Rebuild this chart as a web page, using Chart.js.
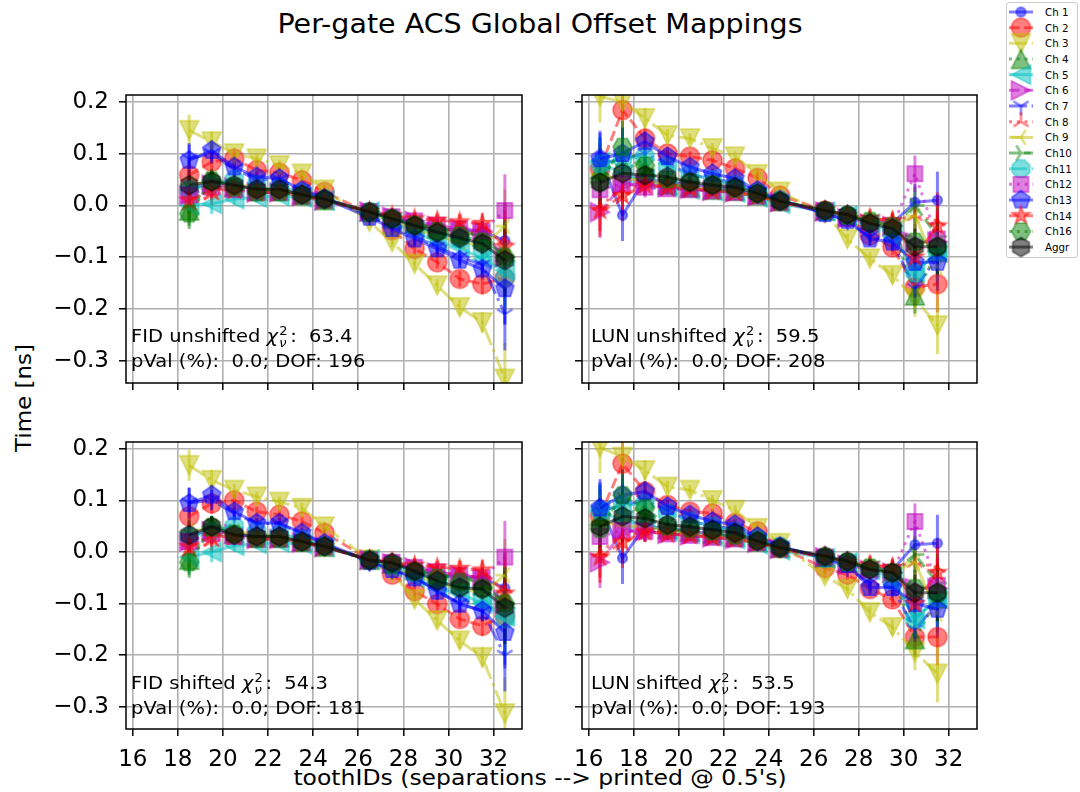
<!DOCTYPE html>
<html>
<head>
<meta charset="utf-8">
<script src="https://cdn.jsdelivr.net/npm/chart.js@4"></script>
<style>
  body { margin: 0; width: 1080px; height: 792px; position: relative; background: #fff; overflow: hidden;
         font-family: "DejaVu Sans", sans-serif; color: #000; }
  .abs { position: absolute; }
  .txt { position: absolute; font-size: 19.5px; line-height: 27px; white-space: pre;
         transform: scaleY(0.93); transform-origin: 0 33.75px; }
  .chi { font-style: italic; }
  .ss { position: relative; display: inline-block; width: 12px; height: 1px; }
  .ss .sup { position: absolute; left: 1px; top: -18px; font-size: 13px; line-height: 1; }
  .ss .sub { position: absolute; left: 1px; top: -5px; font-size: 13px; line-height: 1; font-style: italic; }
  #legend { position: absolute; left: 1006px; top: 2px; width: 72px; height: 256px; border: 1px solid #cccccc; border-radius: 3px; box-sizing: border-box; }
  .lgtxt { position: absolute; left: 1045px; font-size: 10.3px; line-height: 12px; white-space: pre; }
</style>
</head>
<body>

<div class="abs" style="left:0;width:1080px;top:10px;text-align:center;font-size:28.5px;line-height:1;transform:scaleY(0.93);transform-origin:50% 24.1px;">Per-gate ACS Global Offset Mappings</div>
<div class="abs" style="left:24px;top:398px;font-size:23px;line-height:1;white-space:nowrap;transform:translate(-50%,-50%) rotate(-90deg) scaleY(0.92);">Time [ns]</div>
<div class="abs" style="left:0;width:1080px;top:766px;text-align:center;font-size:23.5px;line-height:1;white-space:pre;transform:scaleY(0.91);transform-origin:50% 19.9px;">toothIDs (separations --&gt; printed @ 0.5's)</div>

<canvas id="tl" class="abs"></canvas>
<canvas id="tr" class="abs"></canvas>
<canvas id="bl" class="abs"></canvas>
<canvas id="br" class="abs"></canvas>

<div class="txt" style="left:131px;top:321px;">FID unshifted <span class="chi">χ</span><span class="ss"><span class="sup">2</span><span class="sub">ν</span></span>:  63.4
pVal (%):  0.0; DOF: 196</div>
<div class="txt" style="left:591px;top:321px;">LUN unshifted <span class="chi">χ</span><span class="ss"><span class="sup">2</span><span class="sub">ν</span></span>:  59.5
pVal (%):  0.0; DOF: 208</div>
<div class="txt" style="left:131px;top:668px;">FID shifted <span class="chi">χ</span><span class="ss"><span class="sup">2</span><span class="sub">ν</span></span>:  54.3
pVal (%):  0.0; DOF: 181</div>
<div class="txt" style="left:591px;top:668px;">LUN shifted <span class="chi">χ</span><span class="ss"><span class="sup">2</span><span class="sub">ν</span></span>:  53.5
pVal (%):  0.0; DOF: 193</div>

<div id="legend"></div>
<canvas id="legendMarks" class="abs" style="left:1000px;top:0;"></canvas>

<script>
// tooth positions
const fidX = [18.5, 19.5, 20.5, 21.5, 22.5, 23.5, 24.5, 26.5, 27.5, 28.5, 29.5, 30.5, 31.5, 32.5];
const lunX = [16.5, 17.5, 18.5, 19.5, 20.5, 21.5, 22.5, 23.5, 24.5, 26.5, 27.5, 28.5, 29.5, 30.5, 31.5];

const xTicks = [16, 18, 20, 22, 24, 26, 28, 30, 32];
const yTicks = [0.2, 0.1, 0.0, -0.1, -0.2, -0.3];
const yTickLabels = ["0.2", "0.1", "0.0", "\u22120.1", "\u22120.2", "\u22120.3"];

const seriesNames = ["Ch 1", "Ch 2", "Ch 3", "Ch 4", "Ch 5", "Ch 6", "Ch 7", "Ch 8",
                     "Ch 9", "Ch10", "Ch11", "Ch12", "Ch13", "Ch14", "Ch16", "Aggr"];

// one row per series, in seriesNames order
const fidUnshifted = [
  [0.030, 0.045, 0.040, 0.030, 0.030, 0.020, 0.012, -0.012, -0.022, -0.035, -0.045, -0.048, -0.050, -0.068],
  [0.058, 0.084, 0.090, 0.068, 0.063, 0.048, 0.026, -0.016, -0.048, -0.084, -0.110, -0.142, -0.152, -0.140],
  [0.145, 0.123, 0.100, 0.090, 0.077, 0.061, 0.030, -0.032, -0.071, -0.113, -0.155, -0.197, -0.226, -0.335],
  [-0.010, 0.050, 0.035, 0.028, 0.028, 0.020, 0.010, -0.012, -0.025, -0.035, -0.045, -0.050, -0.060, -0.090],
  [0.000, 0.003, 0.012, 0.015, 0.018, 0.015, 0.010, -0.012, -0.032, -0.050, -0.071, -0.081, -0.104, -0.125],
  [0.020, 0.040, 0.035, 0.025, 0.025, 0.018, 0.010, -0.012, -0.022, -0.030, -0.040, -0.045, -0.050, -0.100],
  [0.090, 0.100, 0.070, 0.050, 0.050, 0.030, 0.015, -0.020, -0.040, -0.060, -0.080, -0.100, -0.115, -0.210],
  [0.000, 0.020, 0.030, 0.025, 0.025, 0.020, 0.010, -0.012, -0.025, -0.035, -0.045, -0.050, -0.055, -0.065],
  [0.040, 0.045, 0.040, 0.035, 0.030, 0.020, 0.010, -0.015, -0.030, -0.045, -0.060, -0.070, -0.080, -0.040],
  [0.030, 0.050, 0.040, 0.032, 0.030, 0.020, 0.012, -0.012, -0.025, -0.035, -0.045, -0.050, -0.060, -0.100],
  [0.030, 0.040, 0.050, 0.040, 0.035, 0.025, 0.012, -0.012, -0.025, -0.040, -0.055, -0.065, -0.085, -0.140],
  [0.020, 0.035, 0.030, 0.025, 0.025, 0.018, 0.010, -0.012, -0.022, -0.030, -0.038, -0.045, -0.050, -0.010],
  [0.087, 0.106, 0.074, 0.055, 0.052, 0.029, 0.013, -0.023, -0.045, -0.065, -0.084, -0.106, -0.123, -0.161],
  [0.010, 0.030, 0.030, 0.025, 0.025, 0.018, 0.010, -0.012, -0.020, -0.026, -0.029, -0.032, -0.035, -0.080],
  [-0.016, 0.048, 0.035, 0.025, 0.025, 0.018, 0.010, -0.013, -0.025, -0.038, -0.050, -0.058, -0.070, -0.100],
  [0.039, 0.046, 0.039, 0.031, 0.031, 0.021, 0.012, -0.013, -0.026, -0.039, -0.052, -0.063, -0.074, -0.106]
];
const fidUnshiftedErr = [0.030, 0.020, 0.012, 0.010, 0.010, 0.010, 0.010, 0.010, 0.010, 0.012, 0.012, 0.015, 0.020, 0.070];

const lunUnshifted = [
  [0.094, -0.019, 0.050, 0.045, 0.040, 0.035, 0.030, 0.020, 0.008, -0.012, -0.020, -0.030, -0.035, 0.006, 0.010],
  [0.070, 0.184, 0.129, 0.100, 0.094, 0.087, 0.071, 0.053, 0.019, -0.010, -0.023, -0.058, -0.081, -0.158, -0.152],
  [0.210, 0.200, 0.168, 0.135, 0.129, 0.110, 0.094, 0.060, 0.026, -0.016, -0.065, -0.103, -0.135, -0.180, -0.232],
  [0.070, 0.080, 0.070, 0.040, 0.035, 0.030, 0.028, 0.020, 0.008, -0.010, -0.020, -0.030, -0.040, -0.174, -0.090],
  [0.084, 0.060, 0.050, 0.035, 0.030, 0.028, 0.025, 0.015, 0.003, -0.012, -0.020, -0.035, -0.050, -0.130, -0.090],
  [-0.013, 0.040, 0.040, 0.035, 0.032, 0.028, 0.025, 0.018, 0.006, -0.012, -0.025, -0.035, -0.040, -0.071, -0.070],
  [0.080, 0.090, 0.100, 0.080, 0.060, 0.050, 0.045, 0.025, 0.010, -0.015, -0.030, -0.060, -0.070, -0.160, -0.100],
  [0.000, 0.030, 0.040, 0.035, 0.030, 0.028, 0.025, 0.018, 0.006, -0.010, -0.020, -0.025, -0.030, -0.020, -0.030],
  [0.060, 0.050, 0.050, 0.040, 0.035, 0.030, 0.025, 0.018, 0.006, -0.010, -0.020, -0.030, -0.040, -0.020, -0.120],
  [0.060, 0.100, 0.070, 0.040, 0.035, 0.030, 0.028, 0.020, 0.008, -0.010, -0.020, -0.030, -0.040, 0.000, -0.060],
  [0.080, 0.090, 0.094, 0.075, 0.060, 0.050, 0.040, 0.025, 0.010, -0.012, -0.020, -0.035, -0.055, -0.130, -0.090],
  [0.030, 0.042, 0.035, 0.032, 0.030, 0.028, 0.025, 0.018, 0.006, -0.010, -0.025, -0.035, -0.040, 0.061, -0.065],
  [0.090, 0.100, 0.123, 0.094, 0.074, 0.061, 0.052, 0.029, 0.010, -0.016, -0.029, -0.065, -0.071, -0.110, -0.110],
  [-0.010, 0.019, 0.039, 0.035, 0.032, 0.028, 0.025, 0.018, 0.006, -0.010, -0.020, -0.025, -0.030, -0.100, -0.040],
  [0.045, 0.113, 0.077, 0.050, 0.045, 0.040, 0.032, 0.022, 0.008, -0.010, -0.020, -0.030, -0.040, -0.070, -0.080],
  [0.044, 0.062, 0.058, 0.055, 0.045, 0.039, 0.035, 0.023, 0.008, -0.010, -0.018, -0.035, -0.045, -0.080, -0.080]
];
const lunUnshiftedErr = [0.050, 0.050, 0.020, 0.012, 0.010, 0.010, 0.010, 0.010, 0.010, 0.010, 0.010, 0.012, 0.015, 0.035, 0.055];

const fidShifted = [
  [0.030, 0.045, 0.035, 0.030, 0.030, 0.020, 0.010, -0.015, -0.022, -0.035, -0.045, -0.048, -0.050, -0.070],
  [0.069, 0.094, 0.100, 0.078, 0.072, 0.059, 0.037, -0.015, -0.044, -0.076, -0.101, -0.130, -0.143, -0.124],
  [0.168, 0.139, 0.120, 0.107, 0.097, 0.085, 0.049, -0.015, -0.040, -0.092, -0.133, -0.172, -0.204, -0.313],
  [-0.015, 0.050, 0.035, 0.028, 0.028, 0.020, 0.010, -0.015, -0.022, -0.035, -0.045, -0.050, -0.055, -0.090],
  [-0.010, 0.000, 0.012, 0.016, 0.018, 0.015, 0.010, -0.015, -0.030, -0.050, -0.070, -0.080, -0.100, -0.125],
  [0.020, 0.040, 0.035, 0.025, 0.025, 0.018, 0.010, -0.015, -0.022, -0.030, -0.040, -0.045, -0.050, -0.100],
  [0.095, 0.100, 0.075, 0.055, 0.055, 0.035, 0.015, -0.020, -0.035, -0.050, -0.075, -0.100, -0.115, -0.200],
  [0.000, 0.020, 0.030, 0.025, 0.025, 0.020, 0.010, -0.015, -0.022, -0.030, -0.040, -0.045, -0.050, -0.070],
  [0.040, 0.045, 0.040, 0.035, 0.030, 0.020, 0.010, -0.015, -0.030, -0.045, -0.060, -0.070, -0.080, -0.045],
  [0.030, 0.050, 0.040, 0.032, 0.030, 0.020, 0.012, -0.015, -0.022, -0.035, -0.045, -0.050, -0.060, -0.100],
  [0.030, 0.040, 0.050, 0.040, 0.035, 0.025, 0.012, -0.015, -0.025, -0.040, -0.055, -0.070, -0.090, -0.130],
  [0.020, 0.035, 0.030, 0.025, 0.025, 0.018, 0.010, -0.015, -0.020, -0.030, -0.038, -0.045, -0.050, -0.010],
  [0.094, 0.110, 0.078, 0.056, 0.056, 0.037, 0.017, -0.018, -0.034, -0.050, -0.076, -0.101, -0.114, -0.156],
  [0.010, 0.030, 0.030, 0.025, 0.025, 0.018, 0.010, -0.015, -0.020, -0.026, -0.030, -0.032, -0.035, -0.080],
  [-0.020, 0.048, 0.035, 0.025, 0.025, 0.018, 0.010, -0.015, -0.025, -0.038, -0.050, -0.058, -0.070, -0.100],
  [0.033, 0.049, 0.033, 0.030, 0.030, 0.020, 0.011, -0.016, -0.021, -0.037, -0.056, -0.069, -0.072, -0.108]
];
const fidShiftedErr = [0.030, 0.020, 0.012, 0.010, 0.010, 0.010, 0.010, 0.008, 0.010, 0.012, 0.012, 0.015, 0.020, 0.070];

const lunShifted = [
  [0.091, -0.012, 0.050, 0.045, 0.040, 0.035, 0.030, 0.020, 0.008, -0.010, -0.020, -0.030, -0.035, 0.014, 0.017],
  [0.070, 0.171, 0.117, 0.091, 0.078, 0.075, 0.056, 0.040, 0.008, -0.031, -0.044, -0.072, -0.092, -0.165, -0.165],
  [0.203, 0.184, 0.158, 0.126, 0.120, 0.100, 0.081, 0.046, 0.017, -0.047, -0.072, -0.117, -0.146, -0.194, -0.236],
  [0.070, 0.080, 0.075, 0.045, 0.040, 0.035, 0.030, 0.020, 0.008, -0.010, -0.020, -0.030, -0.040, -0.169, -0.090],
  [0.080, 0.060, 0.055, 0.040, 0.035, 0.030, 0.025, 0.015, 0.003, -0.012, -0.020, -0.035, -0.050, -0.130, -0.090],
  [-0.020, 0.040, 0.040, 0.035, 0.032, 0.028, 0.025, 0.018, 0.006, -0.010, -0.025, -0.035, -0.040, -0.070, -0.070],
  [0.080, 0.090, 0.100, 0.080, 0.060, 0.050, 0.045, 0.025, 0.010, -0.012, -0.030, -0.060, -0.070, -0.150, -0.100],
  [0.000, 0.030, 0.040, 0.035, 0.030, 0.028, 0.025, 0.018, 0.006, -0.010, -0.020, -0.025, -0.030, -0.020, -0.030],
  [0.060, 0.050, 0.050, 0.040, 0.035, 0.030, 0.025, 0.018, 0.006, -0.010, -0.020, -0.030, -0.040, -0.020, -0.120],
  [0.060, 0.100, 0.070, 0.045, 0.040, 0.035, 0.030, 0.020, 0.008, -0.010, -0.020, -0.030, -0.040, -0.005, -0.060],
  [0.080, 0.090, 0.094, 0.075, 0.060, 0.050, 0.040, 0.025, 0.010, -0.012, -0.020, -0.035, -0.055, -0.130, -0.090],
  [0.030, 0.042, 0.040, 0.035, 0.032, 0.028, 0.025, 0.018, 0.006, -0.010, -0.025, -0.035, -0.040, 0.059, -0.065],
  [0.085, 0.110, 0.117, 0.088, 0.072, 0.059, 0.053, 0.030, 0.011, -0.012, -0.024, -0.069, -0.069, -0.100, -0.111],
  [-0.010, 0.019, 0.039, 0.035, 0.032, 0.028, 0.025, 0.018, 0.006, -0.010, -0.020, -0.025, -0.030, -0.100, -0.040],
  [0.045, 0.110, 0.085, 0.050, 0.045, 0.040, 0.032, 0.022, 0.008, -0.010, -0.020, -0.030, -0.040, -0.070, -0.080],
  [0.049, 0.069, 0.065, 0.053, 0.049, 0.043, 0.037, 0.021, 0.008, -0.008, -0.018, -0.034, -0.040, -0.079, -0.079]
];
const lunShiftedErr = [0.050, 0.050, 0.020, 0.012, 0.010, 0.010, 0.010, 0.010, 0.010, 0.010, 0.010, 0.012, 0.015, 0.035, 0.055];

// styling
const seriesColors = ["0,0,255", "255,0,0", "191,191,0", "0,128,0", "0,191,191", "191,0,191",
                      "0,0,255", "255,0,0", "191,191,0", "0,128,0", "0,191,191", "191,0,191",
                      "0,0,255", "255,0,0", "0,128,0", "0,0,0"];
const seriesMarkers = ["point", "circle", "down", "up", "left", "right", "tri1", "tri2",
                       "tri3", "tri4", "oct", "square", "pent", "star", "hexFlat", "hexPointy"];
const seriesLines = ["-", "--", "-.", ":", "-", "--", "-.", ":", "-", "--", "-.", ":", "-", "--", ":", "-"];
const dashes = { "-": [], "--": [10.5, 4.6], "-.": [18, 4.6, 3, 4.6], ":": [3, 4.8] };

const FONT = '"DejaVu Sans", sans-serif';
const MS = 19;
const X_MIN = 15.7, X_MAX = 33.26;
const Y_MIN = -0.343, Y_MAX = 0.213;
const AX_W = 80, AX_H = 45, PAD_T = 20, PAD_R = 20;

function makeMarker(kind, rgb, s) {
  const c = document.createElement("canvas");
  const size = Math.ceil(s + 6);
  c.width = c.height = size;
  const g = c.getContext("2d");
  g.translate(size / 2, size / 2);
  const r = s / 2;
  g.fillStyle = `rgba(${rgb},0.5)`;
  g.strokeStyle = `rgba(${rgb},0.5)`;
  g.lineWidth = 1.6;
  const poly = pts => {
    g.beginPath();
    pts.forEach(([px, py], k) => k ? g.lineTo(px * r, py * r) : g.moveTo(px * r, py * r));
    g.closePath(); g.fill(); g.stroke();
  };
  const regular = (n, start) => {
    const p = [];
    for (let k = 0; k < n; k++) {
      const t = start + k * 2 * Math.PI / n;
      p.push([Math.cos(t), -Math.sin(t)]);
    }
    poly(p);
  };
  const arms = list => {
    g.lineWidth = 2.4;
    g.beginPath();
    list.forEach(([px, py]) => { g.moveTo(0, 0); g.lineTo(px * r, py * r); });
    g.stroke();
  };
  switch (kind) {
    case "point": g.beginPath(); g.arc(0, 0, r / 2, 0, 2 * Math.PI); g.fill(); g.stroke(); break;
    case "circle": g.beginPath(); g.arc(0, 0, r, 0, 2 * Math.PI); g.fill(); g.stroke(); break;
    case "down": poly([[0, 1], [1, -1], [-1, -1]]); break;
    case "up": poly([[0, -1], [1, 1], [-1, 1]]); break;
    case "left": poly([[-1, 0], [1, -1], [1, 1]]); break;
    case "right": poly([[1, 0], [-1, -1], [-1, 1]]); break;
    case "tri1": arms([[0, 1], [0.8, -0.5], [-0.8, -0.5]]); break;
    case "tri2": arms([[0, -1], [0.8, 0.5], [-0.8, 0.5]]); break;
    case "tri3": arms([[-1, 0], [0.5, 0.8], [0.5, -0.8]]); break;
    case "tri4": arms([[1, 0], [-0.5, 0.8], [-0.5, -0.8]]); break;
    case "oct": regular(8, Math.PI / 2 + Math.PI / 8); break;
    case "square": poly([[-0.8, -0.8], [0.8, -0.8], [0.8, 0.8], [-0.8, 0.8]]); break;
    case "pent": regular(5, Math.PI / 2); break;
    case "star": {
      const p = [];
      for (let k = 0; k < 10; k++) {
        const t = Math.PI / 2 + k * Math.PI / 5;
        const rr = k % 2 ? 0.381966 : 1;
        p.push([rr * Math.cos(t), -rr * Math.sin(t)]);
      }
      poly(p);
      break;
    }
    case "hexPointy": regular(6, Math.PI / 2); break;
    case "hexFlat": regular(6, 0); break;
  }
  return c;
}

const markerImages = seriesMarkers.map((m, i) => makeMarker(m, seriesColors[i], MS));

// error bars under the lines, frame on top
const errorBars = {
  id: "errorBars",
  beforeDatasetsDraw(chart) {
    const { ctx, chartArea: a, scales: { x, y } } = chart;
    ctx.save();
    ctx.beginPath();
    ctx.rect(a.left, a.top, a.right - a.left, a.bottom - a.top);
    ctx.clip();
    ctx.lineWidth = 3;
    chart.data.datasets.forEach(ds => {
      ctx.strokeStyle = ds.borderColor;
      ds.data.forEach((p, j) => {
        const px = x.getPixelForValue(p.x);
        ctx.beginPath();
        ctx.moveTo(px, y.getPixelForValue(p.y - ds.errs[j]));
        ctx.lineTo(px, y.getPixelForValue(p.y + ds.errs[j]));
        ctx.stroke();
      });
    });
    ctx.restore();
  },
  afterDraw(chart) {
    const { ctx, chartArea: a } = chart;
    ctx.save();
    ctx.strokeStyle = "#000";
    ctx.lineWidth = 1.5;
    ctx.strokeRect(a.left, a.top, a.right - a.left, a.bottom - a.top);
    ctx.restore();
  }
};

function makePanel(id, left, top, w, h, xs, rows, errs, showX, showY) {
  const cv = document.getElementById(id);
  cv.width = w + AX_W + PAD_R;
  cv.height = h + PAD_T + AX_H;
  cv.style.left = (left - AX_W) + "px";
  cv.style.top = (top - PAD_T) + "px";

  const datasets = rows.map((ys, i) => ({
    label: seriesNames[i],
    data: xs.map((x, j) => ({ x: x, y: ys[j] })),
    errs: errs,
    borderColor: `rgba(${seriesColors[i]},0.5)`,
    backgroundColor: `rgba(${seriesColors[i]},0.5)`,
    borderWidth: 3,
    borderDash: dashes[seriesLines[i]],
    borderJoinStyle: "round",
    pointStyle: markerImages[i],
    pointRadius: 10,
    tension: 0,
    clip: 0,
    order: rows.length - i
  }));

  const axisGrid = { color: "#b0b0b0", lineWidth: 1.6, tickColor: "#000", tickLength: 7, tickWidth: 1.5 };

  new Chart(cv, {
    type: "line",
    data: { datasets: datasets },
    options: {
      responsive: false,
      animation: false,
      events: [],
      layout: { padding: { top: PAD_T, right: PAD_R, left: 0, bottom: 0 } },
      plugins: { legend: { display: false }, tooltip: { enabled: false } },
      scales: {
        x: {
          type: "linear", min: X_MIN, max: X_MAX,
          afterBuildTicks: s => { s.ticks = xTicks.map(v => ({ value: v })); },
          afterFit: s => { s.height = AX_H; s.paddingLeft = 0; s.paddingRight = 0; },
          grid: axisGrid,
          border: { display: false },
          ticks: { display: showX, color: "#000", font: { family: FONT, size: 23 }, padding: 10,
                   maxRotation: 0, autoSkip: false, callback: v => String(v) }
        },
        y: {
          type: "linear", min: Y_MIN, max: Y_MAX,
          afterBuildTicks: s => { s.ticks = yTicks.map(v => ({ value: v })); },
          afterFit: s => { s.width = AX_W; s.paddingTop = 0; s.paddingBottom = 0; },
          grid: axisGrid,
          border: { display: false },
          ticks: { display: showY, color: "#000", font: { family: FONT, size: 23 }, padding: 10,
                   autoSkip: false,
                   callback: v => yTickLabels[yTicks.findIndex(t => Math.abs(t - v) < 1e-9)] }
        }
      }
    },
    plugins: [errorBars]
  });
}

makePanel("tl", 126, 95, 396, 288, fidX, fidUnshifted, fidUnshiftedErr, false, true);
makePanel("tr", 582, 95, 395, 288, lunX, lunUnshifted, lunUnshiftedErr, false, false);
makePanel("bl", 126, 442, 396, 287, fidX, fidShifted, fidShiftedErr, true, true);
makePanel("br", 582, 442, 395, 287, lunX, lunShifted, lunShiftedErr, true, false);

// legend
const lg = document.getElementById("legendMarks");
lg.width = 40; lg.height = 262;
const lctx = lg.getContext("2d");
seriesNames.forEach((name, i) => {
  const cy = 12 + i * 15.67;
  lctx.save();
  lctx.strokeStyle = `rgba(${seriesColors[i]},0.5)`;
  lctx.lineWidth = 3;
  lctx.setLineDash(dashes[seriesLines[i]]);
  lctx.beginPath();
  lctx.moveTo(9, cy);
  lctx.lineTo(33, cy);
  lctx.stroke();
  lctx.restore();
  const img = markerImages[i];
  lctx.drawImage(img, 21 - img.width / 2, cy - img.height / 2);
  const t = document.createElement("div");
  t.className = "lgtxt";
  t.style.top = (cy - 6) + "px";
  t.textContent = name;
  document.body.appendChild(t);
});
</script>
</body>
</html>
